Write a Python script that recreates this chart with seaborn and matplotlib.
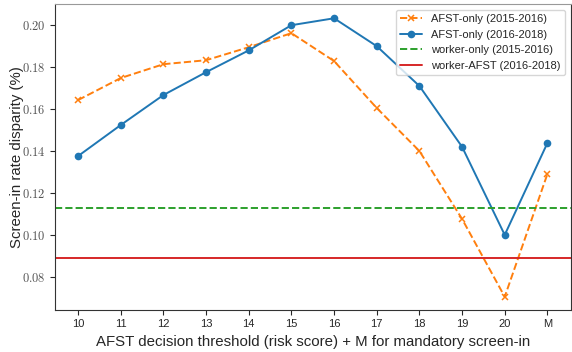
import matplotlib
matplotlib.use("Agg")
import matplotlib.pyplot as plt
import pandas as pd
import seaborn as sns
from matplotlib.ticker import FuncFormatter

thresholds = ["10", "11", "12", "13", "14", "15", "16", "17", "18", "19", "20", "M"]
afst_only_1516 = [0.1643, 0.1748, 0.1814, 0.1833, 0.1895, 0.1962, 0.1829, 0.1605, 0.1400, 0.1076, 0.0705, 0.1290]
afst_only_1618 = [0.1376, 0.1524, 0.1667, 0.1776, 0.1880, 0.2000, 0.2033, 0.1900, 0.1710, 0.1420, 0.1000, 0.1438]
worker_only_1516 = 0.1129
worker_afst_1618 = 0.0890

sns.set_style("ticks")
plt.rcParams["font.family"] = ["Liberation Sans", "DejaVu Sans"]
plt.rcParams["mathtext.fontset"] = "cm"

df = pd.DataFrame({"pos": range(len(thresholds)),
                   "a1516": afst_only_1516, "a1618": afst_only_1618})

fig, ax = plt.subplots(figsize=(5.72, 3.52), dpi=100)
sns.lineplot(data=df, x="pos", y="a1516", ax=ax, color="tab:orange", marker="x",
             markersize=5, markeredgewidth=1.1, markeredgecolor="tab:orange",
             linewidth=1.4, label="AFST-only (2015-2016)")
sns.lineplot(data=df, x="pos", y="a1618", ax=ax, color="tab:blue", marker="o",
             markersize=5.5, markeredgewidth=0, linewidth=1.4,
             label="AFST-only (2016-2018)")
ax.lines[0].set_linestyle("--")
ax.axhline(worker_only_1516, color="tab:green", linestyle="--", linewidth=1.4,
           label="worker-only (2015-2016)")
ax.axhline(worker_afst_1618, color="tab:red", linewidth=1.4,
           label="worker-AFST (2016-2018)")

ax.set_xticks(range(len(thresholds)))
ax.set_xticklabels(thresholds, fontsize=8)
ax.set_xlim(-0.53, len(thresholds) - 1 + 0.55)
ax.set_ylim(0.0643, 0.210)
ax.set_yticks([0.08, 0.10, 0.12, 0.14, 0.16, 0.18, 0.20])
ax.yaxis.set_major_formatter(FuncFormatter(lambda v, p: f"${v:.2f}$"))
ax.tick_params(axis="y", labelsize=9, labelcolor="#555555")
ax.set_xlabel("AFST decision threshold (risk score) + M for mandatory screen-in", fontsize=10.8)
ax.set_ylabel("Screen-in rate disparity (%)", fontsize=10.8)
ax.yaxis.set_label_coords(-0.062, 0.5)
ax.spines["top"].set_color("#999999")
for s in ["left", "bottom", "right"]:
    ax.spines[s].set_color("#333333")
ax.legend(loc="upper right", fontsize=8, frameon=True)

fig.subplots_adjust(left=0.097, right=0.998, top=0.988, bottom=0.12)
fig.savefig("out.png", dpi=100)
